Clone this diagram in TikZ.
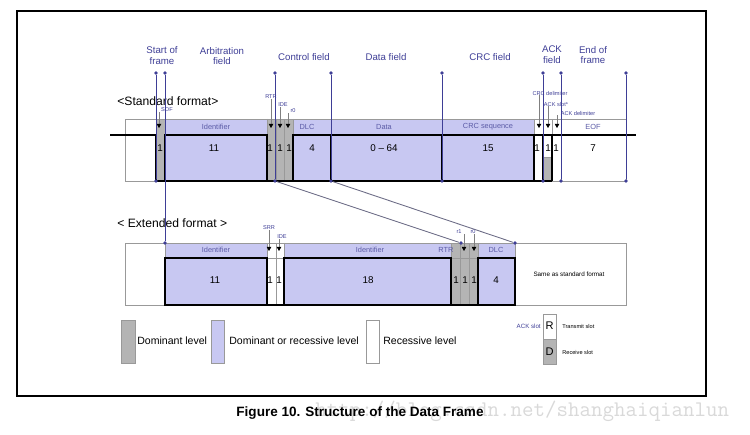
\documentclass[tikz,border=0pt]{standalone}
\usepackage{fontspec}
\setmainfont{Liberation Sans}
\usetikzlibrary{arrows.meta}

\definecolor{lav}{RGB}{200,200,242}
\definecolor{dom}{RGB}{180,180,180}
\definecolor{guidec}{RGB}{62,62,150}

\tikzset{
  hdr/.style={text=guidec, font=\fontsize{5.5}{6.2}\selectfont, align=center, inner sep=0pt},
  fld/.style={text=guidec!85, font=\fontsize{4.2}{5}\selectfont, inner sep=0pt},
  tiny/.style={text=guidec, font=\fontsize{3.2}{4}\selectfont, inner sep=0pt},
  bits/.style={font=\fontsize{5.6}{6}\selectfont, inner sep=0pt},
  legtext/.style={font=\fontsize{6}{7}\selectfont, inner sep=0pt, anchor=west},
  ptr/.style={gray, line width=0.4pt, -{Triangle[length=2.4pt,width=2.6pt,color=black]}},
  bus/.style={line width=1.2pt},
  thinbox/.style={draw=gray!80, line width=0.4pt},
  guide/.style={guidec, line width=0.5pt},
  diag/.style={gray!70!guidec, line width=0.5pt},
  dot/.style={circle, fill=guidec, inner sep=0pt, minimum size=2.2pt},
}

\begin{document}
\begin{tikzpicture}[x=0.02cm, y=-0.02cm]
  \useasboundingbox (0,0) rectangle (750,435);

  % watermark and caption
  \node[text=gray!30, font=\ttfamily\fontsize{12.7}{13}\selectfont, anchor=west, inner sep=0pt] (wmark) at (315,411) {http://blog.csdn.net/shanghaiqianlun};
  \node[font=\bfseries\fontsize{7.7}{9}\selectfont, inner sep=0pt] (caption) at (360,413) {Figure 10. Structure of the Data Frame};
  \draw[line width=1pt] (17,11) rectangle (706,396);

  % field titles
  \node[hdr] (tsof) at (162,56) {Start of\\frame};
  \node[hdr] (tarb) at (222,56) {Arbitration\\field};
  \node[hdr] (tctl) at (304,57) {Control field};
  \node[hdr] (tdat) at (386,57) {Data field};
  \node[hdr] (tcrc) at (490,57) {CRC field};
  \node[hdr] (tack) at (552,55) {ACK\\field};
  \node[hdr] (teof) at (593,55) {End of\\frame};

  % ---- standard format ----
  \node[font=\fontsize{6.9}{8}\selectfont, anchor=west, inner sep=0pt] (stdfmt) at (117,101) {<Standard format>};
  \fill[dom] (156,119) rectangle (165,181);
  \fill[lav] (165,119) rectangle (267,181);
  \fill[dom] (267,119) rectangle (293,181);
  \fill[lav] (293,119) rectangle (534,181);
  \fill[dom] (543,157) rectangle (552,181);
  \draw[thinbox] (125,119) rectangle (626,181);
  \foreach \x in {156,165,267,276,284,293,331,442,534,543,552,561}
    \draw[thinbox] (\x,119) -- (\x,181);
  \draw[thinbox] (543,157) -- (552,157);
  % signal
  \draw[bus] (110,135) -- (156,135) -- (156,181) -- (552,181);
  \draw[bus] (165,181) -- (165,135) -- (267,135) -- (267,181);
  \draw[bus] (293,181) -- (293,135) -- (534,135) -- (534,181);
  \draw[bus] (331,135) -- (331,181);
  \draw[bus] (442,135) -- (442,181);
  \draw[bus] (534,135) -- (636,135);
  \draw[bus] (543,135) -- (543,181);
  \draw[bus] (552,135) -- (552,181);

  \node[fld] (sid) at (216,127) {Identifier};
  \node[fld] (sdlc) at (307,127) {DLC};
  \node[fld] (sdata) at (384,127) {Data};
  \node[fld] (scrc) at (488,127) {CRC sequence};
  \node[fld] (seof) at (593,127) {EOF};
  \foreach \x [count=\i] in {160,270,280,289,537,548,556}
    \node[bits] (sone\i) at (\x,148) {1};
  \node[bits] (sidn) at (214,148) {11};
  \node[bits] (sdlcn) at (312,148) {4};
  \node[bits] (sdatan) at (384,148) {0 -- 64};
  \node[bits] (scrcn) at (488,148) {15};
  \node[bits] (seofn) at (593,148) {7};

  \foreach \nm/\x/\y/\ax/\txt in {lsof/167/110/159/SOF, lrtr/271/97/271/RTR, lide/283/105/280/IDE,
      lrz/293/111/288/r0, lcrcd/550/93/539/CRC delimiter, lacks/556/104/548/ACK slot*,
      lackd/578/113/557/ACK delimiter}{
    \node[tiny] (\nm) at (\x,\y) {\txt};
    \coordinate (\nm-tip) at (\ax,128);
    \draw[ptr] (\nm.south -| \nm-tip) -- (\nm-tip);
  }

  % ---- extended format ----
  \node[font=\fontsize{6.9}{8}\selectfont, anchor=west, inner sep=0pt] (extfmt) at (117,223) {< Extended format >};
  \fill[lav] (165,243) rectangle (267,305);
  \fill[lav] (284,243) rectangle (451,305);
  \fill[dom] (451,243) rectangle (478,305);
  \fill[lav] (478,243) rectangle (515,305);
  \draw[thinbox] (125,243) rectangle (626,305);
  \draw[thinbox] (165,258) -- (515,258);
  \foreach \x in {165,267,276,284,451,460,469,478,515}
    \draw[thinbox] (\x,243) -- (\x,305);
  \draw[bus] (165,258) rectangle (267,305);
  \draw[bus] (284,258) rectangle (451,305);
  \draw[bus] (478,258) rectangle (515,305);
  \draw[bus] (165,305) -- (515,305);

  \node[fld] (eid) at (216,250) {Identifier};
  \node[fld] (eidb) at (370,250) {Identifier};
  \node[fld] (ertr) at (446,250) {RTR};
  \node[fld] (edlc) at (496,250) {DLC};
  \foreach \x [count=\i] in {270,279,456,465,474}
    \node[bits] (eone\i) at (\x,280) {1};
  \node[bits] (eidn) at (215,280) {11};
  \node[bits] (eidbn) at (368,280) {18};
  \node[bits] (edlcn) at (496,280) {4};
  \node[tiny, text=black, font=\fontsize{3.6}{4}\selectfont] (esame) at (569,274) {Same as standard format};

  \foreach \nm/\x/\y/\ax/\txt in {lsrr/269/228/269/SRR, leide/282/237/279/IDE,
      lrone/459/232/464/r1, lrzero/473/232/474/r0}{
    \node[tiny] (\nm) at (\x,\y) {\txt};
    \coordinate (\nm-tip) at (\ax,251);
    \draw[ptr] (\nm.south -| \nm-tip) -- (\nm-tip);
  }

  % guide lines
  \foreach \x/\yb [count=\i] in {156/181,165/243,275/181,331/181,442/181,543/181,561/181,626/181}{
    \node[dot] (gt\i) at (\x,73) {};
    \node[dot] (gb\i) at (\x,\yb) {};
    \draw[guide] (gt\i) -- (gb\i);
  }
  \node[dot] (ex1) at (461,243) {};
  \node[dot] (ex2) at (515,243) {};
  \draw[diag] (gb3) -- (ex1);
  \draw[diag] (gb4) -- (ex2);

  % ---- legend ----
  \draw[thinbox, fill=dom] (121,320) rectangle (135,363);
  \node[legtext] (ldom) at (137,341) {Dominant level};
  \draw[thinbox, fill=lav] (211,320) rectangle (224,363);
  \node[legtext] (ldor) at (229,341) {Dominant or recessive level};
  \draw[thinbox, fill=white] (366,320) rectangle (379,363);
  \node[legtext] (lrec) at (383,341) {Recessive level};

  \node[tiny, anchor=east, font=\fontsize{3.5}{4}\selectfont] (lackslot) at (541,326) {ACK slot};
  \draw[thinbox, fill=white] (543,314) rectangle (556,339);
  \draw[thinbox, fill=dom] (543,339) rectangle (556,364);
  \node[bits, font=\fontsize{6.3}{7}\selectfont] (lr) at (549.5,326) {R};
  \node[bits, font=\fontsize{6.3}{7}\selectfont] (ld) at (549.5,352) {D};
  \node[tiny, text=black, anchor=west] (ltx) at (562,326) {Transmit slot};
  \node[tiny, text=black, anchor=west] (lrx) at (562,352) {Receive slot};
\end{tikzpicture}
\end{document}
